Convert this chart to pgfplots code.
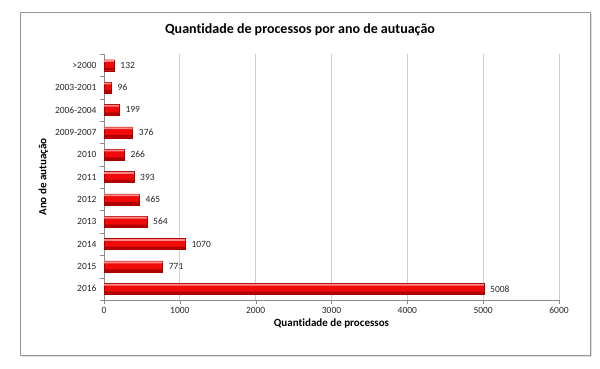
\documentclass[border=0pt]{standalone}
\usepackage{pgfplots}
\pgfplotsset{compat=1.18}
\usepackage{fontspec}
\setmainfont{Carlito}[Ligatures={NoCommon}]
\usetikzlibrary{shadows}
\definecolor{gridgray}{RGB}{205,205,205}
\definecolor{axgray}{RGB}{140,140,140}
\definecolor{framegray}{RGB}{150,150,150}
\definecolor{barred}{RGB}{240,10,10}
\definecolor{barhi}{RGB}{255,140,140}
\definecolor{bardark}{RGB}{175,0,0}
\begin{document}
\begin{tikzpicture}
\useasboundingbox (0pt,0pt) rectangle (600pt,369pt);
\fill[white] (0pt,0pt) rectangle (600pt,369pt);
\draw[framegray, fill=white, drop shadow={opacity=0.25, shadow xshift=2pt, shadow yshift=-2pt}] (20pt,14pt) rectangle (590pt,357pt);
\node[font=\bfseries\fontsize{14}{16}\selectfont] at (300pt,339pt) {Quantidade de processos por ano de autuação};
\begin{axis}[
  at={(104pt,69pt)}, anchor=south west,
  scale only axis, width=455pt, height=246pt,
  xmin=0, xmax=6000, ymin=-0.5, ymax=10.5,
  y dir=reverse,
  xtick={0,1000,...,6000},
  ytick={0,...,10},
  yticklabels={>2000,2003-2001,2006-2004,2009-2007,2010,2011,2012,2013,2014,2015,2016},
  minor ytick={-0.5,0.5,...,10.5},
  major y tick style={draw=none},
  minor tick length=4pt, major tick length=4pt,
  tick align=outside,
  tick style={axgray},
  xmajorgrids, grid style={gridgray, line width=0.8pt},
  axis x line*=bottom, axis y line*=left,
  axis line style={axgray, -},
  ticklabel style={font=\fontsize{9.5}{11}\selectfont, text=black!85},
  /pgf/number format/assume math mode=true,
  /pgf/number format/1000 sep={},
  xlabel={Quantidade de processos},
  ylabel={Ano de autuação},
  label style={font=\bfseries\fontsize{11}{13}\selectfont},
  xlabel style={yshift=2pt},
  ylabel style={yshift=0pt},
  clip=false,
]
\addplot[xbar, bar width=11pt, draw=bardark, line width=0.2pt, fill=barred,
  nodes near coords, nodes near coords align={horizontal},
  every node near coord/.append style={font=\fontsize{9.5}{11}\selectfont, text=black!85, xshift=3pt, /pgf/number format/assume math mode=true}
] coordinates {
(132,0) (96,1) (199,2) (376,3) (266,4) (393,5) (465,6) (564,7) (1070,8) (771,9) (5008,10)
};
\addplot[xbar, bar width=1.8pt, bar shift=4.1pt, draw=none, fill=barhi, forget plot] coordinates {
(132,0) (96,1) (199,2) (376,3) (266,4) (393,5) (465,6) (564,7) (1070,8) (771,9) (5008,10)
};
\addplot[xbar, bar width=2.6pt, bar shift=-4.1pt, draw=none, fill=bardark, forget plot] coordinates {
(132,0) (96,1) (199,2) (376,3) (266,4) (393,5) (465,6) (564,7) (1070,8) (771,9) (5008,10)
};
\end{axis}
\end{tikzpicture}
\end{document}
